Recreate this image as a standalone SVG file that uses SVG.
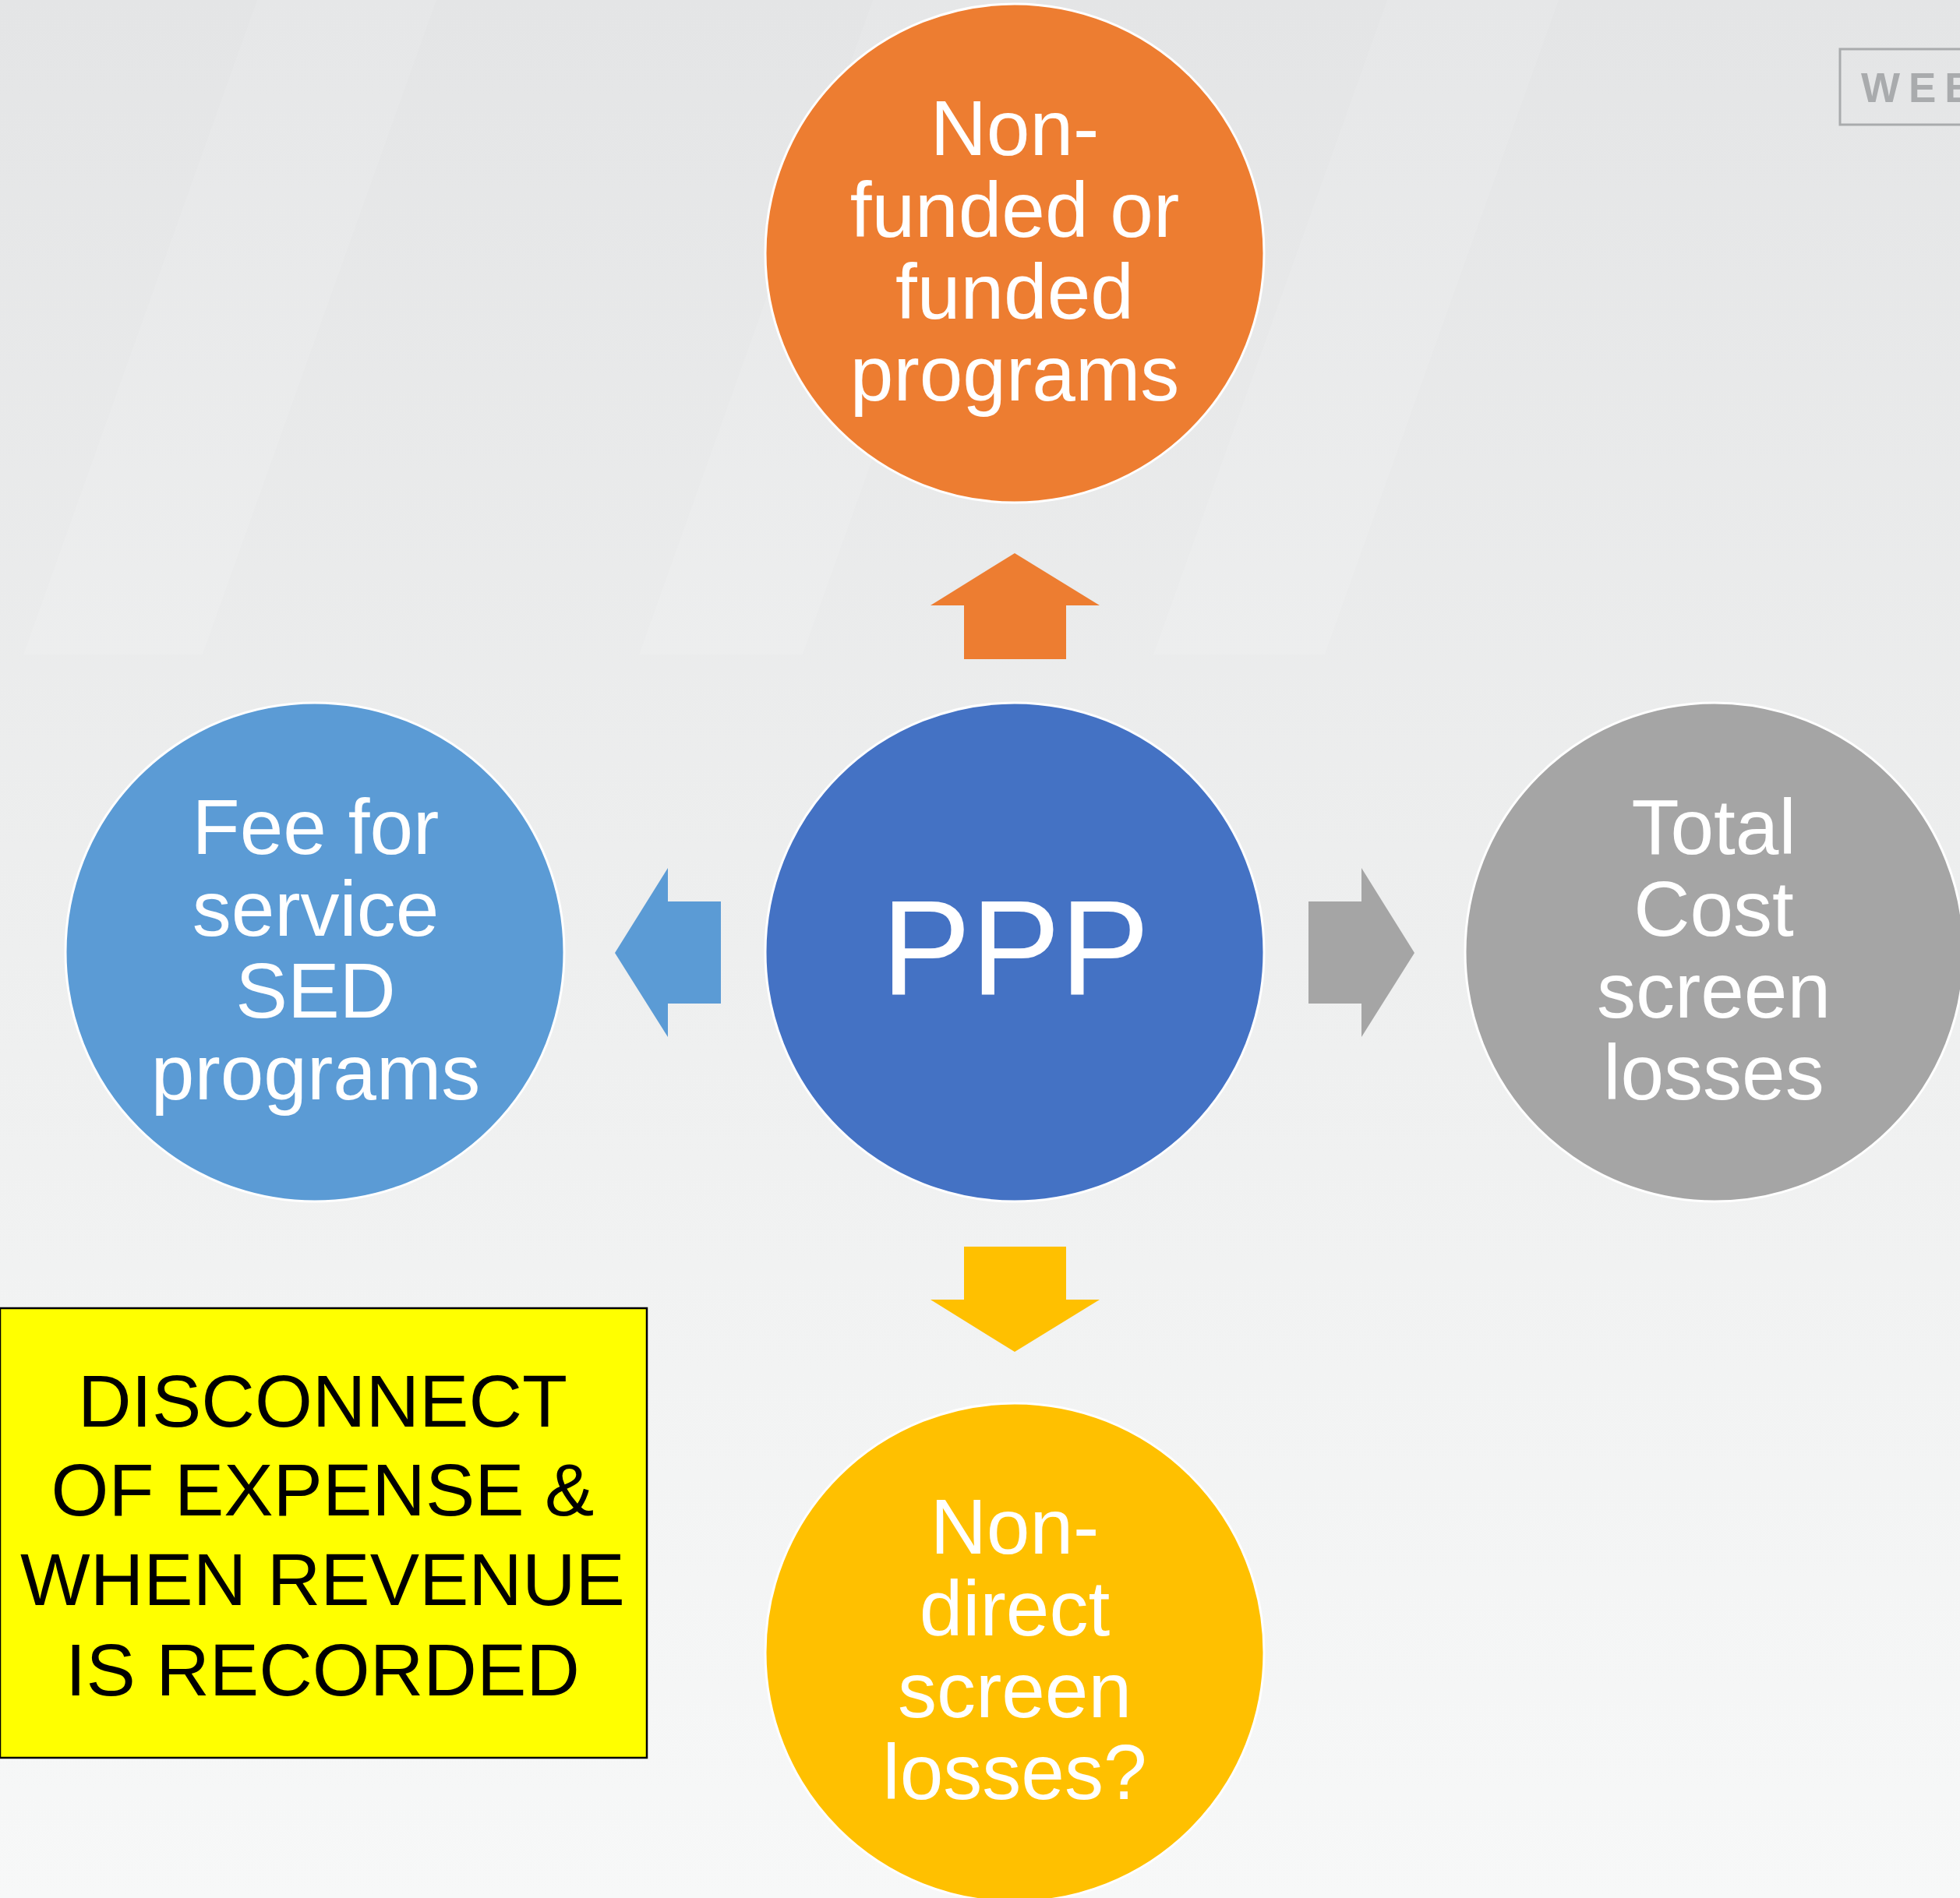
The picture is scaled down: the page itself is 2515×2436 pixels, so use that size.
<svg xmlns="http://www.w3.org/2000/svg" width="2515" height="2436" viewBox="0 0 2515 2436">
  <defs>
    <linearGradient id="bg" x1="0" y1="0" x2="0" y2="1">
      <stop offset="0" stop-color="#e4e5e6"/>
      <stop offset="0.5" stop-color="#eeefef"/>
      <stop offset="1" stop-color="#f7f8f8"/>
    </linearGradient>
  </defs>
  <style>
    .lbl { font-family: "Liberation Sans", Arial, sans-serif; font-size: 100px; fill: #ffffff; text-anchor: middle; }
    .circ { stroke: #ffffff; stroke-width: 3; }
    .note { font-family: "Liberation Sans", Arial, sans-serif; font-size: 95px; fill: #000000; text-anchor: middle; }
  </style>
  <rect x="0" y="0" width="2515" height="2436" fill="url(#bg)"/>
  <g opacity="0.1" fill="#ffffff">
    <polygon points="330,0 560,0 260,840 30,840"/>
    <polygon points="1120,0 1330,0 1030,840 820,840"/>
    <polygon points="1780,0 2000,0 1700,840 1480,840"/>
  </g>

  <g id="web-badge">
    <rect x="2361" y="63" width="200" height="97" fill="none" stroke="#a9abad" stroke-width="3"/>
    <text x="2388" y="131" font-family="Liberation Sans, Arial, sans-serif" font-weight="bold" font-size="53" letter-spacing="11" fill="#a9abad">WEB</text>
  </g>

  <g id="connectors">
    <path d="M1302,710 L1411,777 L1368,777 L1368,846 L1237,846 L1237,777 L1194,777 Z" fill="#ED7D31"/>
    <path d="M1237,1600 L1368,1600 L1368,1668 L1411,1668 L1302,1735 L1194,1668 L1237,1668 Z" fill="#FFC000"/>
    <path d="M789,1223 L857,1114 L857,1157 L925,1157 L925,1288 L857,1288 L857,1331 Z" fill="#5B9BD5"/>
    <path d="M1815,1223 L1747,1331 L1747,1288 L1679,1288 L1679,1157 L1747,1157 L1747,1114 Z" fill="#A5A5A5"/>
  </g>

  <g id="node-top">
    <circle class="circ" cx="1302" cy="325" r="320" fill="#ED7D31"/>
    <text class="lbl" x="1302" y="199">Non-</text>
    <text class="lbl" x="1302" y="304">funded or</text>
    <text class="lbl" x="1302" y="409">funded</text>
    <text class="lbl" x="1302" y="514">programs</text>
  </g>

  <g id="node-center">
    <circle class="circ" cx="1302" cy="1222" r="320" fill="#4472C4"/>
    <text x="1303" y="1276" font-family="Liberation Sans, Arial, sans-serif" font-size="172" fill="#ffffff" text-anchor="middle">PPP</text>
  </g>

  <g id="node-left">
    <circle class="circ" cx="404" cy="1222" r="320" fill="#5B9BD5"/>
    <text class="lbl" x="405" y="1096">Fee for</text>
    <text class="lbl" x="405" y="1201">service</text>
    <text class="lbl" x="405" y="1306">SED</text>
    <text class="lbl" x="405" y="1411">programs</text>
  </g>

  <g id="node-right">
    <circle class="circ" cx="2200" cy="1222" r="320" fill="#A5A5A5"/>
    <text class="lbl" x="2199" y="1096">Total</text>
    <text class="lbl" x="2199" y="1201">Cost</text>
    <text class="lbl" x="2199" y="1306">screen</text>
    <text class="lbl" x="2199" y="1411">losses</text>
  </g>

  <g id="node-bottom">
    <circle class="circ" cx="1302" cy="2121" r="320" fill="#FFC000"/>
    <text class="lbl" x="1302" y="1994">Non-</text>
    <text class="lbl" x="1302" y="2099">direct</text>
    <text class="lbl" x="1302" y="2204">screen</text>
    <text class="lbl" x="1302" y="2309">losses?</text>
  </g>

  <g id="note">
    <rect x="0" y="1679" width="830" height="577" fill="#FFFF00" stroke="#000000" stroke-width="2.5"/>
    <text class="note" x="414" y="1831">DISCONNECT</text>
    <text class="note" x="414" y="1945">OF EXPENSE &amp;</text>
    <text class="note" x="414" y="2060">WHEN REVENUE</text>
    <text class="note" x="414" y="2176">IS RECORDED</text>
  </g>
</svg>
